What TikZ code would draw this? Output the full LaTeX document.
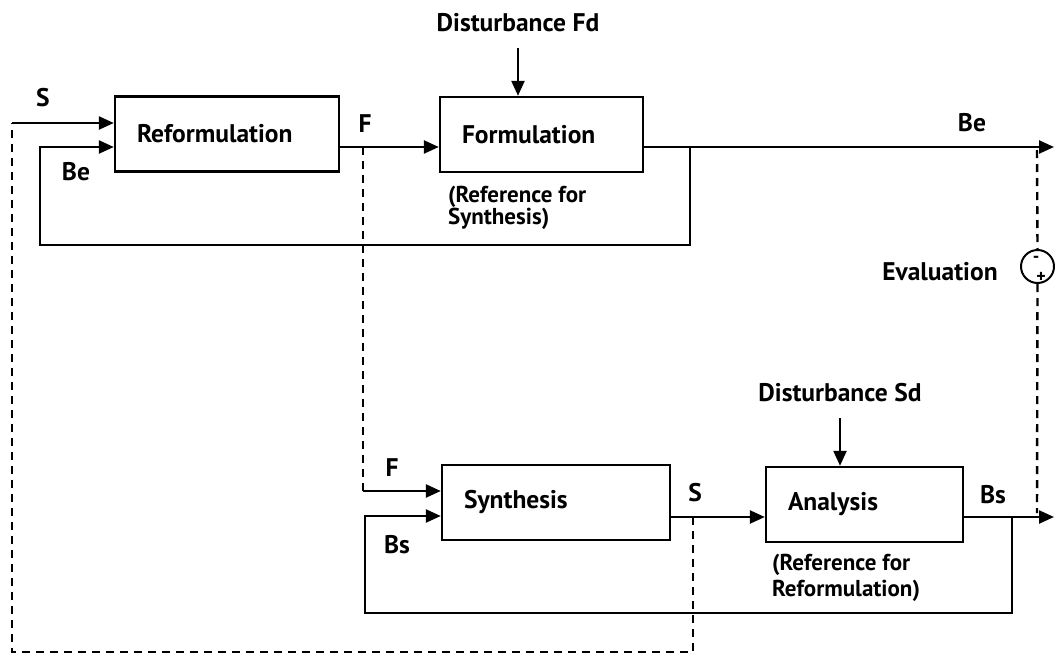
\documentclass[tikz,border=0pt]{standalone}
\usepackage{fontspec}
\setmainfont{PT Sans}
\usetikzlibrary{arrows.meta}
\begin{document}
\begin{tikzpicture}[x=1pt,y=-1pt,
  font=\fontsize{25.5}{30}\selectfont\bfseries,
  wire/.style={line width=2.4pt},
  flow/.style={wire,-{Triangle[length=15pt,width=13pt]}},
  dashwire/.style={wire,dash pattern=on 8pt off 6pt},
  block/.style={draw,line width=2.4pt,minimum height=75pt,inner xsep=22pt,align=left},
  lbl/.style={inner sep=0pt},
  note/.style={inner sep=0pt,align=left,anchor=north west}]
\useasboundingbox (0,0) rectangle (1055,664);

% blocks
\node[block,text width=180pt] (refo)  at (227,134)   {Reformulation};
\node[block,text width=159pt] (form)  at (541.5,134.5) {Formulation};
\node[block,text width=184pt] (synth) at (556,502.5) {Synthesis};
\node[block,text width=153pt] (anal)  at (864.5,504.5) {Analysis};

% comparator
\node[draw,circle,line width=2pt,minimum size=33pt,inner sep=0pt] (ev) at (1037.5,266.5) {};
\node[lbl,font=\fontsize{18}{18}\selectfont\bfseries] (evm) at (1036,259) {-};
\node[lbl,font=\fontsize{18}{18}\selectfont\bfseries] (evp) at (1041,277) {+};

% labels
\node[lbl] (distF) at (518,23) {Disturbance Fd};
\node[lbl] (distS) at (840,393) {Disturbance Sd};
\node[lbl] (lS1)  at (43,98)  {S};
\node[lbl] (lBe1) at (76,172) {Be};
\node[lbl] (lF1)  at (365,124) {F};
\node[lbl] (lBe2) at (972,123) {Be};
\node[lbl] (lEv)  at (940,272) {Evaluation};
\node[lbl] (lF2)  at (392,468) {F};
\node[lbl] (lBs1) at (397,545) {Bs};
\node[lbl] (lS2)  at (695,493) {S};
\node[lbl] (lBs2) at (993,495) {Bs};
\node[note,font=\fontsize{23}{22}\selectfont\bfseries] (refS) at (448,186) {(Reference for\\Synthesis)};
\node[note,font=\fontsize{23}{26}\selectfont\bfseries] (refR) at (772,554) {(Reference for\\Reformulation)};

% junctions and free ends
\coordinate (jF)    at (363,147);
\coordinate (jBe)   at (690,147);
\coordinate (endBe) at (1054,147);
\coordinate (jS)    at (693,517);
\coordinate (jBs)   at (1012,517);
\coordinate (endBs) at (1054,517);
\coordinate (sIn)   at (12,123);
\coordinate (fIn)   at (363,491);
\coordinate (evTop) at (1037,150);
\coordinate (evBot) at (1037,513);

% upper loop
\draw[flow] (refo.east |- jF) -- (form.west |- jF);
\draw[flow] (form.east |- jBe) -- (endBe);
\draw[flow] (jBe) |- (40,245) |- (refo.west |- 0,147);
\draw[flow,shorten <=16pt] (distF.south) -- (distF.south |- form.north);

% lower loop
\draw[flow] (synth.east |- jS) -- (anal.west |- jS);
\draw[flow] (anal.east |- jBs) -- (endBs);
\draw[flow] (jBs) |- (365,613) |- (synth.west |- 0,516);
\draw[flow,shorten <=16pt] (distS.south) -- (distS.south |- anal.north);

% formulation passed down to synthesis
\draw[dashwire] (jF) -- (fIn);
\draw[flow] (fIn) -- (synth.west |- fIn);

% solution fed back to reformulation
\draw[dashwire] (jS) |- (12,652) -- (sIn);
\draw[flow] (sIn) -- (refo.west |- sIn);

% evaluation of Be against Bs
\draw[dashwire] (evTop) -- (ev.north);
\draw[dashwire] (ev.south) -- (evBot);
\end{tikzpicture}
\end{document}
